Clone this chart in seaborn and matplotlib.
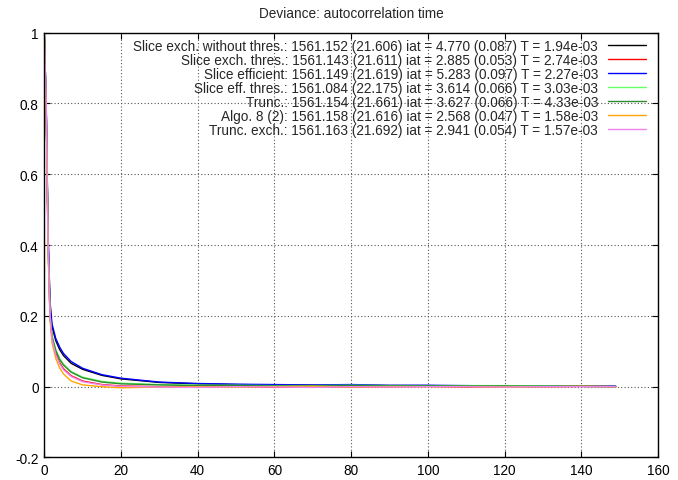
import numpy as np
import pandas as pd
import matplotlib
matplotlib.use("Agg")
import matplotlib.pyplot as plt
import seaborn as sns
from matplotlib.ticker import FuncFormatter

lags = [0, 0.5, 1, 1.5, 2, 3, 4, 5, 7, 10, 15, 20, 30, 40, 50, 60, 70,
        80, 90, 100, 110, 120, 130, 140, 149]

acf_slice_exch = [1, 0.80, 0.42, 0.23, 0.170, 0.130, 0.105, 0.088, 0.066, 0.049,
                  0.032, 0.022, 0.012, 0.008, 0.006, 0.005, 0.004, 0.004, 0.003, 0.003,
                  0.002, 0.002, 0.001, 0.001, 0.001]
acf_slice_exch_thres = [1, 0.79, 0.40, 0.20, 0.140, 0.095, 0.068, 0.051, 0.031, 0.016,
                        0.006, 0.002, 0.0, -0.001, 0.001, -0.002, 0.0, -0.001, 0.0, 0.001,
                        -0.001, 0.0, 0.0, 0.001, 0.0]
acf_slice_eff = [1, 0.80, 0.43, 0.24, 0.178, 0.136, 0.112, 0.094, 0.071, 0.052,
                 0.034, 0.024, 0.013, 0.009, 0.007, 0.006, 0.005, 0.006, 0.004, 0.004,
                 0.003, 0.002, 0.002, 0.001, 0.001]
acf_slice_eff_thres = [1, 0.79, 0.40, 0.205, 0.145, 0.105, 0.080, 0.064, 0.043, 0.027,
                       0.015, 0.010, 0.006, 0.004, 0.004, 0.003, 0.003, 0.004, 0.003, 0.002,
                       0.003, 0.003, 0.002, 0.001, 0.0]
acf_trunc = [1, 0.79, 0.40, 0.20, 0.143, 0.102, 0.077, 0.061, 0.041, 0.025,
             0.013, 0.008, 0.005, 0.003, 0.003, 0.002, 0.002, 0.003, 0.002, 0.002,
             0.002, 0.002, 0.001, 0.001, 0.0]
acf_algo8 = [1, 0.78, 0.38, 0.19, 0.125, 0.080, 0.053, 0.036, 0.016, 0.005,
             0.0, -0.003, -0.001, 0.0, -0.001, 0.0, 0.001, -0.001, 0.0, 0.0,
             0.0, -0.001, 0.0, 0.001, 0.0]
acf_trunc_exch = [1, 0.80, 0.40, 0.20, 0.135, 0.090, 0.065, 0.048, 0.029, 0.014,
                  0.005, 0.001, -0.001, -0.002, 0.0, -0.001, -0.002, 0.0, -0.001, 0.0,
                  0.0, -0.001, 0.0, 0.0, 0.0]

labels = [
    'Slice exch. without thres.: 1561.152 (21.606) iat = 4.770 (0.087) T = 1.94e-03',
    'Slice exch. thres.: 1561.143 (21.611) iat = 2.885 (0.053) T = 2.74e-03',
    'Slice efficient: 1561.149 (21.619) iat = 5.283 (0.097) T = 2.27e-03',
    'Slice eff. thres.: 1561.084 (22.175) iat = 3.614 (0.066) T = 3.03e-03',
    'Trunc.: 1561.154 (21.661) iat = 3.627 (0.066) T = 4.33e-03',
    'Algo. 8 (2): 1561.158 (21.616) iat = 2.568 (0.047) T = 1.58e-03',
    'Trunc. exch.: 1561.163 (21.692) iat = 2.941 (0.054) T = 1.57e-03',
]
series = [acf_slice_exch, acf_slice_exch_thres, acf_slice_eff, acf_slice_eff_thres,
          acf_trunc, acf_algo8, acf_trunc_exch]
colores = ['#000000', '#ff0000', '#0000ff', '#66ff66', '#2e8b2e', '#ffa500', '#ee82ee']

sns.set_style("ticks")
plt.rcParams['font.family'] = ['Liberation Sans', 'DejaVu Sans']
fs = 9.8

fig = plt.figure(figsize=(6.78, 4.81), dpi=100)
ax = fig.add_axes([0.0653, 0.0468, 0.9052, 0.8832])

for vals, lab, c in zip(series, labels, colores):
    sns.lineplot(x=lags, y=vals, color=c, label=lab, linewidth=1.0,
                 sort=False, errorbar=None, ax=ax)

ax.set_xlim(0, 160)
ax.set_ylim(-0.2, 1.0)
ax.set_xticks(np.arange(0, 161, 20))
ax.set_yticks([-0.2, 0, 0.2, 0.4, 0.6, 0.8, 1.0])
ax.yaxis.set_major_formatter(FuncFormatter(lambda v, p: '%g' % round(v, 2)))
ax.tick_params(direction='in', length=4, width=0.8, top=True, right=True,
               labelsize=fs, colors='black', pad=4)
ax.grid(True, color='#555555', linestyle=(0, (1, 2)), linewidth=0.8)
for s in ax.spines.values():
    s.set_color('black')
    s.set_linewidth(1.0)

ax.set_title('Deviance: autocorrelation time', fontsize=fs, pad=11)

leg = ax.legend(loc='upper right', bbox_to_anchor=(0.98, 0.986), frameon=False,
                markerfirst=False, fontsize=fs, handlelength=2.8,
                handletextpad=0.7, labelspacing=0.0, borderaxespad=0, borderpad=0)

fig.savefig('out.png', dpi=100)
